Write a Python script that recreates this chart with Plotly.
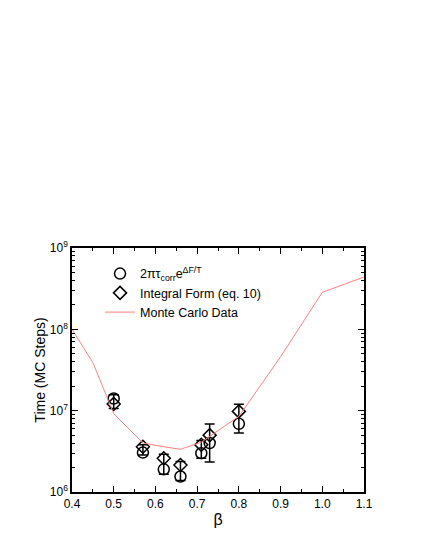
import plotly.graph_objects as go

# Monte Carlo data (line)
mc_beta = [0.4, 0.45, 0.5, 0.57, 0.62, 0.66, 0.71, 0.73, 0.8, 0.9, 1.0, 1.1]
mc_time = [1.0e8, 3.9e7, 9.2e6, 4.0e6, 3.6e6, 3.35e6, 4.1e6, 4.8e6, 8.5e6, 4.6e7, 2.85e8, 4.4e8]

# 2*pi*tau_corr*exp(dF/T) (circles)
circ_beta = [0.5, 0.57, 0.62, 0.66, 0.71, 0.73, 0.8]
circ_time = [1.41e7, 3.05e6, 1.9e6, 1.55e6, 3.0e6, 4.0e6, 6.9e6]
circ_hi = [1.57e7, 3.8e6, 2.92e6, 2.37e6, 4.3e6, 6.85e6, 1.2e7]
circ_lo = [1.06e7, 2.85e6, 1.65e6, 1.38e6, 2.6e6, 2.33e6, 5.3e6]

# Integral form, eq. 10 (diamonds)
diam_beta = [0.5, 0.57, 0.62, 0.66, 0.71, 0.73, 0.8]
diam_time = [1.21e7, 3.6e6, 2.6e6, 2.15e6, 3.8e6, 5.0e6, 9.8e6]

decades = [1e6, 1e7, 1e8, 1e9]
minor_vals = [k * d for d in decades[:-1] for k in range(2, 10)]

fig = go.Figure()

fig.add_trace(go.Scatter(
    x=circ_beta, y=circ_time, mode="markers",
    name="2πτ<sub>corr</sub>e<sup>ΔF/T</sup>",
    marker=dict(symbol="circle-open", size=11, color="black", line=dict(width=1.5)),
    error_y=dict(
        type="data", symmetric=False,
        array=[h - v for h, v in zip(circ_hi, circ_time)],
        arrayminus=[v - l for l, v in zip(circ_lo, circ_time)],
        color="black", thickness=1.5, width=5,
    ),
))

fig.add_trace(go.Scatter(
    x=diam_beta, y=diam_time, mode="markers",
    name="Integral Form (eq. 10)",
    marker=dict(symbol="diamond-open", size=10, color="black", line=dict(width=1.5)),
))

fig.add_trace(go.Scatter(
    x=mc_beta, y=mc_time, mode="lines",
    name="Monte Carlo Data",
    line=dict(color="#ff8080", width=1),
))

axis_common = dict(
    showline=True, linecolor="black", linewidth=1.5, mirror="allticks",
    ticks="inside", ticklen=6, tickcolor="black", showgrid=False, zeroline=False,
    automargin=False,
)

fig.update_layout(
    width=427, height=553,
    paper_bgcolor="white", plot_bgcolor="white",
    font=dict(family="Liberation Sans, Arial, sans-serif", color="black", size=12),
    margin=dict(l=64, r=71, t=240, b=69),
    showlegend=True,
    legend=dict(
        x=0.096, y=0.955, xanchor="left", yanchor="top",
        bgcolor="rgba(0,0,0,0)", font=dict(size=12.5), tracegroupgap=0,
    ),
    xaxis=dict(
        range=[0.4, 1.1], tickvals=[0.4, 0.5, 0.6, 0.7, 0.8, 0.9, 1.0, 1.1],
        ticktext=["0.4", "0.5", "0.6", "0.7", "0.8", "0.9", "1.0", "1.1"],
        tickfont=dict(size=12),
        minor=dict(ticks="inside", ticklen=3, tickvals=[0.45, 0.55, 0.65, 0.75, 0.85, 0.95, 1.05],
                   tickcolor="black"),
        title=dict(text="β", font=dict(size=16), standoff=4),
        **axis_common,
    ),
    yaxis=dict(
        type="log", range=[6, 9],
        tickvals=decades,
        ticktext=["10<sup>6</sup>", "10<sup>7</sup>", "10<sup>8</sup>", "10<sup>9</sup>"],
        tickfont=dict(size=12),
        minor=dict(ticks="inside", ticklen=3, tickvals=minor_vals, tickcolor="black"),
        title=dict(text="Time (MC Steps)", font=dict(size=14), standoff=1),
        **axis_common,
    ),
)

fig.write_html("out.html")
